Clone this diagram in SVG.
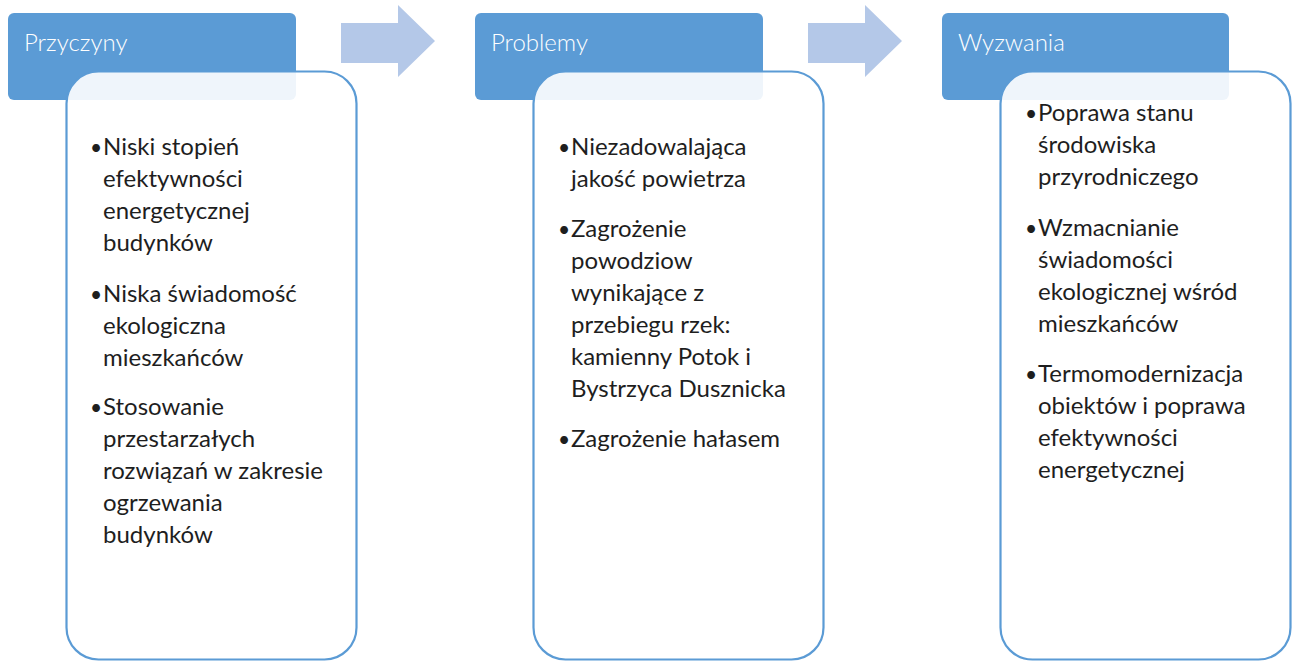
<svg xmlns="http://www.w3.org/2000/svg" width="1299" height="661" viewBox="0 0 1299 661">
<style>
.hdr{fill:#5b9bd5;}
.box{fill:#ffffff;fill-opacity:0.9;stroke:#5b9bd5;stroke-width:2.2;}
.arr{fill:#b4c8e8;}
.ht{font-family:Lato,"Liberation Sans",sans-serif;font-size:24px;font-weight:300;fill:#ffffff;}
.bt{font-family:Lato,"Liberation Sans",sans-serif;font-size:24px;fill:#1e1e1e;}
.bu{font-family:Lato,"Liberation Sans",sans-serif;font-size:21px;fill:#1e1e1e;text-anchor:middle;}
</style>
<rect width="1299" height="661" fill="#ffffff"/>
<g id="connectors">
<polygon class="arr" points="341,23 398,23 398,5 435,41 398,77 398,63 341,63"/>
<polygon class="arr" points="808,23 865,23 865,5 902,41 865,77 865,63 808,63"/>
</g>
<g id="node-przyczyny">
<rect class="hdr" x="8" y="13" width="288" height="87" rx="6"/>
<text class="ht" x="24" y="51">Przyczyny</text>
<rect class="box" x="66.5" y="71.5" width="290" height="588" rx="32"/>
<text class="bu" x="96" y="155">•</text>
<text class="bt" x="103" y="155">Niski stopień</text>
<text class="bt" x="103" y="187">efektywności</text>
<text class="bt" x="103" y="219">energetycznej</text>
<text class="bt" x="103" y="251">budynków</text>
<text class="bu" x="96" y="302">•</text>
<text class="bt" x="103" y="302">Niska świadomość</text>
<text class="bt" x="103" y="334">ekologiczna</text>
<text class="bt" x="103" y="366">mieszkańców</text>
<text class="bu" x="96" y="415">•</text>
<text class="bt" x="103" y="415">Stosowanie</text>
<text class="bt" x="103" y="447">przestarzałych</text>
<text class="bt" x="103" y="479">rozwiązań w zakresie</text>
<text class="bt" x="103" y="511">ogrzewania</text>
<text class="bt" x="103" y="543">budynków</text>
</g>
<g id="node-problemy">
<rect class="hdr" x="475" y="13" width="288" height="87" rx="6"/>
<text class="ht" x="491" y="51">Problemy</text>
<rect class="box" x="533.5" y="71.5" width="290" height="588" rx="32"/>
<text class="bu" x="564" y="155">•</text>
<text class="bt" x="571" y="155">Niezadowalająca</text>
<text class="bt" x="571" y="187">jakość powietrza</text>
<text class="bu" x="564" y="237">•</text>
<text class="bt" x="571" y="237">Zagrożenie</text>
<text class="bt" x="571" y="269">powodziow</text>
<text class="bt" x="571" y="301">wynikające z</text>
<text class="bt" x="571" y="333">przebiegu rzek:</text>
<text class="bt" x="571" y="365">kamienny Potok i</text>
<text class="bt" x="571" y="397">Bystrzyca Dusznicka</text>
<text class="bu" x="564" y="447">•</text>
<text class="bt" x="571" y="447">Zagrożenie hałasem</text>
</g>
<g id="node-wyzwania">
<rect class="hdr" x="942" y="13" width="287" height="87" rx="6"/>
<text class="ht" x="958" y="51">Wyzwania</text>
<rect class="box" x="1000.5" y="71.5" width="290" height="588" rx="32"/>
<text class="bu" x="1031" y="121">•</text>
<text class="bt" x="1038" y="121">Poprawa stanu</text>
<text class="bt" x="1038" y="153">środowiska</text>
<text class="bt" x="1038" y="185">przyrodniczego</text>
<text class="bu" x="1031" y="236">•</text>
<text class="bt" x="1038" y="236">Wzmacnianie</text>
<text class="bt" x="1038" y="268">świadomości</text>
<text class="bt" x="1038" y="300">ekologicznej wśród</text>
<text class="bt" x="1038" y="332">mieszkańców</text>
<text class="bu" x="1031" y="382">•</text>
<text class="bt" x="1038" y="382">Termomodernizacja</text>
<text class="bt" x="1038" y="414">obiektów i poprawa</text>
<text class="bt" x="1038" y="446">efektywności</text>
<text class="bt" x="1038" y="478">energetycznej</text>
</g>
</svg>
